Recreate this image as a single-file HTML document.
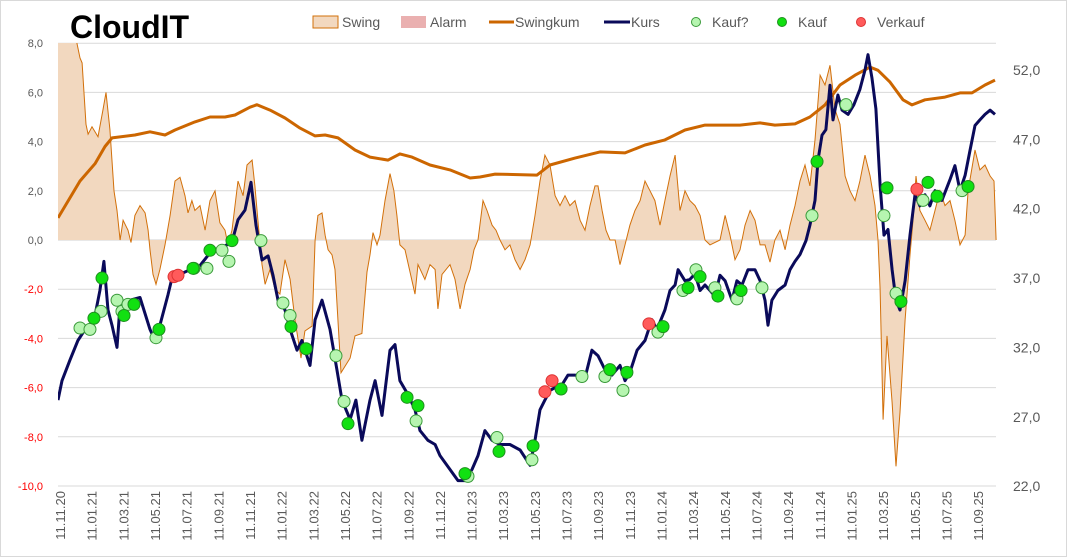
<!DOCTYPE html>
<html><head><meta charset="utf-8"><style>
html,body{margin:0;padding:0;background:#fff}
svg{display:block;font-family:"Liberation Sans",sans-serif}
</style></head><body>
<svg id="chart" width="1067" height="557" viewBox="0 0 1067 557">
<rect x="0.5" y="0.5" width="1066" height="556" fill="#fff" stroke="#d9d9d9"/>
<text x="70" y="38" font-size="32" font-weight="bold" fill="#000">CloudIT</text>
<g id="legend" font-size="14" fill="#595959">
 <g><rect x="313" y="16" width="25" height="12" fill="#f2d8bf" stroke="#d2700a"/><text x="342" y="27">Swing</text></g>
 <g><rect x="401" y="16" width="25" height="12" fill="#eab0b0"/><text x="430" y="27">Alarm</text></g>
 <g><line x1="489" y1="22" x2="514" y2="22" stroke="#cc6600" stroke-width="3"/><text x="515" y="27">Swingkum</text></g>
 <g><line x1="604" y1="22" x2="630" y2="22" stroke="#0a0a5a" stroke-width="3"/><text x="631" y="27">Kurs</text></g>
 <g><circle cx="696" cy="22" r="4.5" fill="#b6f5b0" stroke="#3a9a3a"/><text x="712" y="27">Kauf?</text></g>
 <g><circle cx="782" cy="22" r="4.5" fill="#11e011" stroke="#1f8f1f"/><text x="798" y="27">Kauf</text></g>
 <g><circle cx="861" cy="22" r="4.5" fill="#ff5b5b" stroke="#d33"/><text x="877" y="27">Verkauf</text></g>
</g>
<defs><clipPath id="plotclip"><rect x="58" y="43" width="940" height="445"/></clipPath></defs>
<g id="grid"></g>
<g id="yleft" font-size="11" text-anchor="end"></g>
<g id="yright" font-size="14" fill="#595959"></g>
<g id="xaxis" font-size="13" fill="#595959"></g>
<g id="plot" clip-path="url(#plotclip)"></g>
</svg>
<script>
// months since 11.11.20
const swingT=[0,1.07,1.39,1.52,1.77,1.9,2.15,2.53,2.84,3.03,3.28,3.54,3.73,3.92,4.11,4.42,4.61,4.86,5.18,5.5,5.69,5.81,6.0,6.19,6.44,6.76,7.08,7.39,7.71,8.02,8.21,8.46,8.65,8.97,9.29,9.6,9.92,10.23,10.55,10.74,10.99,11.37,11.69,11.94,12.26,12.44,12.63,12.89,13.08,13.39,13.71,14.02,14.34,14.66,14.97,15.35,15.6,16.05,16.24,16.42,16.68,16.87,17.06,17.31,17.5,17.88,18.45,18.76,19.2,19.52,19.71,19.9,20.15,20.34,20.66,20.97,21.22,21.41,21.6,21.92,22.55,22.74,23.18,23.5,23.82,24.0,24.26,24.76,25.08,25.4,25.71,26.03,26.28,26.53,26.85,27.1,27.42,27.67,27.92,28.24,28.55,28.87,29.19,29.5,29.82,30.13,30.45,30.76,31.08,31.4,31.71,32.03,32.34,32.66,32.98,33.29,33.61,33.92,34.11,34.37,34.62,34.87,35.19,35.5,35.82,36.13,36.45,36.77,37.08,37.4,37.71,38.03,38.34,38.66,38.98,39.29,39.61,39.92,40.24,40.56,40.87,41.19,41.82,42.14,42.45,42.77,43.08,43.4,43.72,44.03,44.35,44.66,44.98,45.29,45.61,45.93,46.24,46.56,46.87,47.19,47.5,47.82,48.14,48.45,48.77,49.09,49.4,49.72,50.03,50.35,50.66,50.98,51.3,51.61,51.8,51.93,52.12,52.37,52.69,52.94,53.19,53.51,53.82,54.01,54.2,54.45,54.77,55.08,55.4,55.72,56.03,56.35,56.66,56.98,57.3,57.49,57.93,58.24,58.56,58.88,59.13,59.26];
const swingV=[8.4,8.4,7.4,7.2,4.7,4.3,4.6,4.2,5.3,6.0,4.5,2.0,1.2,0,0.8,0.4,-0.1,1.0,1.4,1.1,0.4,-0.4,-1.4,-1.8,-1.2,-0.2,1.0,2.4,2.55,1.8,1.1,1.6,1.2,1.4,0.4,1.6,2.0,0.7,0.4,-0.2,0.4,2.4,1.8,3.05,3.25,2.2,0.8,-1.0,-1.8,-1.2,-2.0,-2.2,-0.8,-1.6,-3.25,-4.8,-3.7,-3.5,0,1.0,1.1,0.2,-0.4,-0.6,-1.2,-5.4,-4.8,-3.9,-3.8,-1.3,-0.6,0.3,-0.2,0.2,1.6,2.7,2.0,1.0,-0.2,-0.4,-2.2,-1.0,-1.6,-1.0,-1.2,-2.8,-1.4,-1.0,-1.6,-2.8,-1.8,-1.2,-0.4,0,1.6,1.2,0.6,0.4,0,-0.4,-0.2,-0.8,-1.2,-0.8,-0.2,1.0,2.4,3.45,3.05,1.8,1.4,1.8,1.4,1.6,0.8,0.4,1.4,2.2,2.2,1.2,0.4,0,0,-1.0,-0.2,0.6,1.2,1.6,2.4,2.0,1.6,0.6,1.6,2.6,3.45,1.2,2.0,1.6,1.4,1.0,0,-0.2,0,1.0,0.2,-0.8,-0.4,0.6,1.2,0.8,-0.2,-0.2,-0.9,0,0.4,-0.4,0.6,1.4,2.4,3.05,2.2,4.07,6.7,6.3,7.1,5.3,4.7,2.6,2.0,1.6,2.4,3.45,2.6,1.4,0,-2.0,-7.3,-3.9,-6.6,-9.2,-7.0,-3.25,-0.6,0.8,2.6,1.2,0.8,0.4,1.2,2.0,1.4,1.6,0.8,-0.2,0.2,2.0,3.66,2.85,3.05,2.6,2.4,0];
const kumT=[0,1.39,2.34,2.97,3.41,4.86,5.81,6.76,7.39,8.65,9.6,10.55,11.18,12.13,12.57,13.39,14.34,15.29,16.24,16.87,17.69,18.76,19.71,20.85,21.6,22.36,23.5,24.76,26.03,26.66,27.61,30.26,31.08,32.66,34.24,35.82,37.08,38.34,39.61,40.87,43.08,44.35,45.29,46.56,47.5,48.45,49.4,50.35,51.3,51.8,52.56,53.38,53.95,54.77,56.03,56.98,57.74,58.56,59.19];
const kumV=[0.9,2.4,3.1,3.8,4.15,4.27,4.4,4.27,4.47,4.8,5.0,5.0,5.08,5.4,5.5,5.28,4.96,4.55,4.23,4.27,4.15,3.66,3.37,3.25,3.5,3.37,3.05,2.85,2.52,2.56,2.68,2.64,3.05,3.33,3.58,3.54,3.86,4.07,4.47,4.67,4.67,4.76,4.67,4.72,5.0,5.49,6.3,6.7,7.03,6.9,6.42,5.7,5.49,5.7,5.81,5.98,5.98,6.3,6.5];
const kursT=[0,0.25,0.76,1.26,1.71,2.02,2.34,2.65,2.9,3.16,3.41,3.73,3.92,4.55,5.18,5.81,6.13,6.44,6.95,7.2,7.58,8.34,8.97,9.73,10.36,10.99,11.37,11.81,12.19,12.51,12.89,13.27,13.58,13.9,14.34,14.66,15.1,15.41,15.92,16.24,16.68,17.18,17.62,17.94,18.45,18.82,19.2,19.71,20.03,20.47,20.97,21.29,21.6,22.11,22.55,22.87,23.37,23.82,24.13,24.76,25.27,25.71,26.15,26.53,26.97,27.42,27.92,28.55,29.19,29.82,30.13,30.45,30.76,31.08,31.4,31.84,32.22,32.66,33.29,33.73,34.11,34.55,35,35.5,35.82,36.13,36.58,37.08,37.52,37.84,38.34,38.66,38.98,39.17,39.61,39.92,40.24,40.56,40.87,41.19,41.5,41.82,42.14,42.58,42.89,43.21,43.59,44.03,44.35,44.66,44.85,45.1,45.48,45.93,46.24,46.56,46.87,47.25,47.5,47.82,48.01,48.26,48.51,48.77,48.96,49.27,49.53,49.91,50.28,50.66,50.98,51.17,51.42,51.67,51.93,52.18,52.43,52.69,52.94,53.19,53.51,53.82,54.14,54.45,54.77,55.08,55.4,55.84,56.35,56.66,56.98,57.3,57.61,57.93,58.24,58.56,58.88,59.19];
const kursV=[28.2,29.6,31.1,32.5,33.3,33.3,34.3,36.1,38.2,34.7,33.6,32.0,35.1,35.4,35.6,33.3,32.5,33.6,35.8,37.0,37.2,37.6,37.9,39.0,39.2,39.6,41.2,41.9,43.9,40.8,38.3,38.6,37.2,35.4,34.7,33.3,31.8,32.5,30.7,34.0,35.4,33.3,30.4,28.2,26.8,28.2,25.3,28.2,29.6,27.1,31.8,32.2,29.6,28.6,27.5,26.0,25.3,25.0,24.2,23.2,22.4,22.4,23.2,24.2,26.0,25.3,25.0,25.0,24.6,23.5,25.3,27.5,28.2,28.9,29.1,29.3,30.0,30.0,29.8,31.8,31.4,30.4,30.0,30.7,29.6,30.2,31.8,32.5,34.0,33.3,34.7,36.1,36.5,37.6,36.8,36.9,37.3,36.1,36.5,36.1,35.7,37.2,36.8,35.4,36.8,36.5,37.6,37.6,36.8,35.4,33.6,35.4,36.1,36.5,37.6,38.2,38.7,39.7,40.8,42.6,45.5,47.3,47.7,50.9,48.4,50.2,49.1,48.8,49.5,50.6,52.0,53.1,51.4,49.2,43.7,40.1,40.5,37.6,35.4,34.7,36.8,40.1,43.0,42.2,43.0,42.2,43.3,42.6,44.1,45.1,43.3,44.4,46.2,48.0,48.4,48.8,49.1,48.8];
const kaufQT=[1.39,2.02,2.72,3.73,4.04,4.42,6.19,8.59,9.41,10.36,10.8,12.82,14.21,14.66,17.56,18.07,22.62,25.9,27.73,29.94,33.1,34.55,35.69,37.9,39.48,40.3,41.5,42.89,44.47,47.63,49.78,52.18,52.94,54.64,57.11];
const kaufQV=[33.4,33.3,34.6,35.4,34.6,35.1,32.7,37.7,37.7,39.0,38.2,39.7,35.2,34.3,31.4,28.1,26.7,22.7,25.5,23.9,29.9,29.9,28.9,33.1,36.1,37.6,36.3,35.5,36.3,41.5,49.5,41.5,35.9,42.6,43.3];
const kaufT=[2.27,2.78,4.17,4.8,6.38,8.53,9.6,10.99,14.72,15.67,18.32,22.05,22.74,25.71,27.86,30.01,31.78,34.87,35.94,38.22,39.8,40.56,41.69,43.15,47.95,52.37,53.25,54.96,55.53,57.49];
const kaufV=[34.1,37.0,34.3,35.1,33.3,37.7,39.0,39.7,33.5,31.9,26.5,28.4,27.8,22.9,24.5,24.9,29.0,30.4,30.2,33.5,36.3,37.1,35.7,36.1,45.4,43.5,35.3,43.9,42.9,43.6];
const verkT=[7.33,7.58,30.76,31.21,37.33,54.26];
const verkV=[37.1,37.2,28.8,29.6,33.7,43.4];
const leftTicks=[8,6,4,2,0,-2,-4,-6,-8,-10];
const rightTicks=[52,47,42,37,32,27,22];
const dateLabels=["11.11.20","11.01.21","11.03.21","11.05.21","11.07.21","11.09.21","11.11.21","11.01.22","11.03.22","11.05.22","11.07.22","11.09.22","11.11.22","11.01.23","11.03.23","11.05.23","11.07.23","11.09.23","11.11.23","11.01.24","11.03.24","11.05.24","11.07.24","11.09.24","11.11.24","11.01.25","11.03.25","11.05.25","11.07.25","11.09.25"];
const dateMonths=dateLabels.map((d,i)=>i*2);

const NS="http://www.w3.org/2000/svg";
const xS=m=>58+m*15.83;
const yL=v=>240-v*24.6;
const yR=v=>70+(52-v)*13.87;
function mk(tag,attrs,parent){const e=document.createElementNS(NS,tag);for(const k in attrs)e.setAttribute(k,attrs[k]);parent.appendChild(e);return e;}
const grid=document.getElementById('grid'),yl=document.getElementById('yleft'),yr=document.getElementById('yright'),xa=document.getElementById('xaxis'),plot=document.getElementById('plot');
leftTicks.forEach(t=>{
  const g=mk('line',{x1:58,x2:996,y1:yL(t),y2:yL(t),stroke:t===0?'#d0d0d0':'#d9d9d9','stroke-width':1},grid);
  
  
  const tx=mk('text',{x:43,y:yL(t)+4,fill:t<0?'#ff0000':'#595959'},yl);
  tx.textContent=t.toFixed(1).replace('.',',');
  
  
});
rightTicks.forEach(t=>{
  const tx=mk('text',{x:1013,y:yR(t)+5},yr);
  tx.textContent=t.toFixed(1).replace('.',',');
  
  
});
dateLabels.forEach((d,i)=>{
  const x=xS(dateMonths[i])+7,y=491;
  const tx=mk('text',{x:x,y:y,transform:`rotate(-90 ${x} ${y})`,'text-anchor':'end'},xa);
  tx.textContent=d;
  
  
});
// swing area
let pts=swingT.map((m,i)=>xS(m).toFixed(1)+','+yL(swingV[i]).toFixed(1));
const area=mk('polygon',{points:xS(swingT[0])+','+yL(0)+' '+pts.join(' ')+' '+xS(swingT[swingT.length-1])+','+yL(0),fill:'#f2d8bf'},plot);


const sl=mk('polyline',{points:pts.join(' '),fill:'none',stroke:'#d2700a','stroke-width':1},plot);


const kl=mk('polyline',{points:kumT.map((m,i)=>xS(m).toFixed(1)+','+yL(kumV[i]).toFixed(1)).join(' '),fill:'none',stroke:'#cc6600','stroke-width':3,'stroke-linejoin':'round'},plot);


const ku=mk('polyline',{points:kursT.map((m,i)=>xS(m).toFixed(1)+','+yR(kursV[i]).toFixed(1)).join(' '),fill:'none',stroke:'#0a0a5a','stroke-width':3,'stroke-linejoin':'round'},plot);


function markers(T,V,fill,stroke,name){
  T.forEach((m,i)=>{
    const c=mk('circle',{cx:xS(m),cy:yR(V[i]),r:6,fill:fill,stroke:stroke,'stroke-width':1},plot);
    
    
  });
}
markers(kaufQT,kaufQV,'#b6f5b0','#3a9a3a','kauf-fraglich-marker');
markers(kaufT,kaufV,'#11e011','#1f8f1f','kauf-marker');
markers(verkT,verkV,'#ff5b5b','#d33','verkauf-marker');
</script>
</body></html>
